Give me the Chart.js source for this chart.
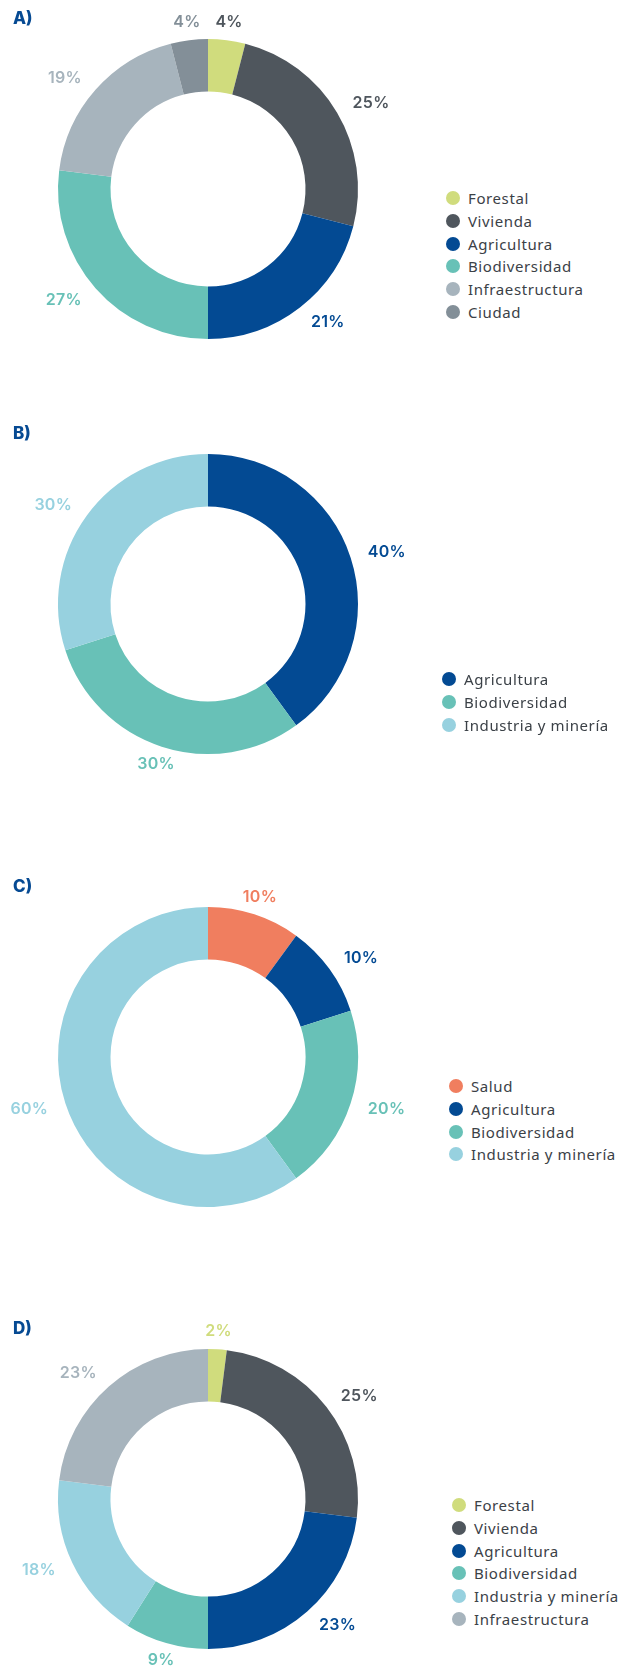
<!DOCTYPE html>
<html lang="es">
<head>
<meta charset="utf-8">
<title>Distribución por sector</title>
<script src="https://cdn.jsdelivr.net/npm/chart.js@4.4.1/dist/chart.umd.min.js"></script>
<style>
    body {
        margin: 0;
        background: #ffffff;
        width: 620px;
        height: 1679px;
        position: relative;
        overflow: hidden;
        font-family: "Noto Sans", sans-serif;
    }
    .block {
        position: absolute;
        left: 0;
        width: 620px;
        height: 420px;
    }
    .title {
        position: absolute;
        left: 13px;
        top: 7px;
        font-family: "Inter", sans-serif;
        font-weight: 800;
        font-size: 17px;
        line-height: 22px;
        color: #064a93;
        z-index: 2;
    }
    .chart-box {
        position: absolute;
        left: 0;
        top: 0;
        width: 420px;
        height: 420px;
    }
    .legend {
        position: absolute;
        list-style: none;
        margin: 0;
        padding: 0;
    }
    .legend li {
        display: flex;
        align-items: center;
        height: 22.7px;
        font-size: 15px;
        letter-spacing: 0.6px;
        color: #3b4147;
        white-space: nowrap;
    }
    .legend .dot {
        width: 14px;
        height: 14px;
        border-radius: 50%;
        margin-right: 8px;
        flex: none;
    }
</style>
</head>
<body>

<div class="block" style="top:0px">
    <div class="title">A)</div>
    <div class="chart-box"><canvas id="chart-a"></canvas></div>
    <ul class="legend" id="legend-a"></ul>
</div>

<div class="block" style="top:415px">
    <div class="title">B)</div>
    <div class="chart-box"><canvas id="chart-b"></canvas></div>
    <ul class="legend" id="legend-b"></ul>
</div>

<div class="block" style="top:868px">
    <div class="title">C)</div>
    <div class="chart-box"><canvas id="chart-c"></canvas></div>
    <ul class="legend" id="legend-c"></ul>
</div>

<div class="block" style="top:1310px">
    <div class="title">D)</div>
    <div class="chart-box"><canvas id="chart-d"></canvas></div>
    <ul class="legend" id="legend-d"></ul>
</div>

<script>
// Data
const labelsA = ['Forestal', 'Vivienda', 'Agricultura', 'Biodiversidad', 'Infraestructura', 'Ciudad'];
const valuesA = [4, 25, 21, 27, 19, 4];

const labelsB = ['Agricultura', 'Biodiversidad', 'Industria y minería'];
const valuesB = [40, 30, 30];

const labelsC = ['Salud', 'Agricultura', 'Biodiversidad', 'Industria y minería'];
const valuesC = [10, 10, 20, 60];

const labelsD = ['Forestal', 'Vivienda', 'Agricultura', 'Biodiversidad', 'Industria y minería', 'Infraestructura'];
const valuesD = [2, 25, 23, 9, 18, 23];

// Sector colours
const sectorColors = {
    'Forestal': '#d0dc7d',
    'Vivienda': '#4f565d',
    'Agricultura': '#034a93',
    'Biodiversidad': '#68c1b7',
    'Infraestructura': '#a7b4bd',
    'Ciudad': '#838f98',
    'Industria y minería': '#97d1df',
    'Salud': '#f07e5f'
};

// Percent label colour overrides (A shows the Forestal label in dark grey)
const labelColorOverridesA = { 'Forestal': '#4f565d' };

// Draws "NN%" outside each slice, at the slice's mid angle
const outsideLabels = {
    id: 'outsideLabels',
    afterDatasetsDraw(chart) {
        const ctx = chart.ctx;
        const meta = chart.getDatasetMeta(0);
        const values = chart.data.datasets[0].data;
        const overrides = chart.options.plugins.outsideLabels.overrides || {};
        ctx.save();
        ctx.font = '600 16px Inter, sans-serif';
        ctx.letterSpacing = '0.3px';
        ctx.textBaseline = 'middle';
        meta.data.forEach((arc, i) => {
            const p = arc.getProps(['x', 'y', 'startAngle', 'endAngle', 'outerRadius'], true);
            const mid = (p.startAngle + p.endAngle) / 2;
            const r = p.outerRadius + 18;
            const cos = Math.cos(mid);
            const x = p.x + cos * r;
            const y = p.y + Math.sin(mid) * r;
            ctx.textAlign = cos > 0.35 ? 'left' : (cos < -0.35 ? 'right' : 'center');
            const label = chart.data.labels[i];
            ctx.fillStyle = overrides[label] || sectorColors[label];
            ctx.fillText(values[i] + '%', x, y);
        });
        ctx.restore();
    }
};

function makeDoughnut(canvasId, labels, values, overrides) {
    const ctx = document.getElementById(canvasId).getContext('2d');
    return new Chart(ctx, {
        type: 'doughnut',
        data: {
            labels: labels,
            datasets: [{
                data: values,
                backgroundColor: labels.map(l => sectorColors[l]),
                borderWidth: 0
            }]
        },
        options: {
            responsive: true,
            maintainAspectRatio: false,
            animation: false,
            cutout: '65%',
            layout: {
                padding: { left: 58, top: 39, right: 62, bottom: 81 }
            },
            plugins: {
                legend: { display: false },
                tooltip: { enabled: false },
                outsideLabels: { overrides: overrides || {} }
            }
        },
        plugins: [outsideLabels]
    });
}

function buildLegend(listId, chart, left, top) {
    const list = document.getElementById(listId);
    list.style.left = left + 'px';
    list.style.top = top + 'px';
    chart.data.labels.forEach((label, i) => {
        const li = document.createElement('li');
        const dot = document.createElement('span');
        dot.className = 'dot';
        dot.style.background = chart.data.datasets[0].backgroundColor[i];
        li.appendChild(dot);
        li.appendChild(document.createTextNode(label));
        list.appendChild(li);
    });
}

const chartA = makeDoughnut('chart-a', labelsA, valuesA, labelColorOverridesA);
const chartB = makeDoughnut('chart-b', labelsB, valuesB);
const chartC = makeDoughnut('chart-c', labelsC, valuesC);
const chartD = makeDoughnut('chart-d', labelsD, valuesD);

buildLegend('legend-a', chartA, 446, 187);
buildLegend('legend-b', chartB, 442, 253);
buildLegend('legend-c', chartC, 449, 207);
buildLegend('legend-d', chartD, 452, 184);
</script>
</body>
</html>
